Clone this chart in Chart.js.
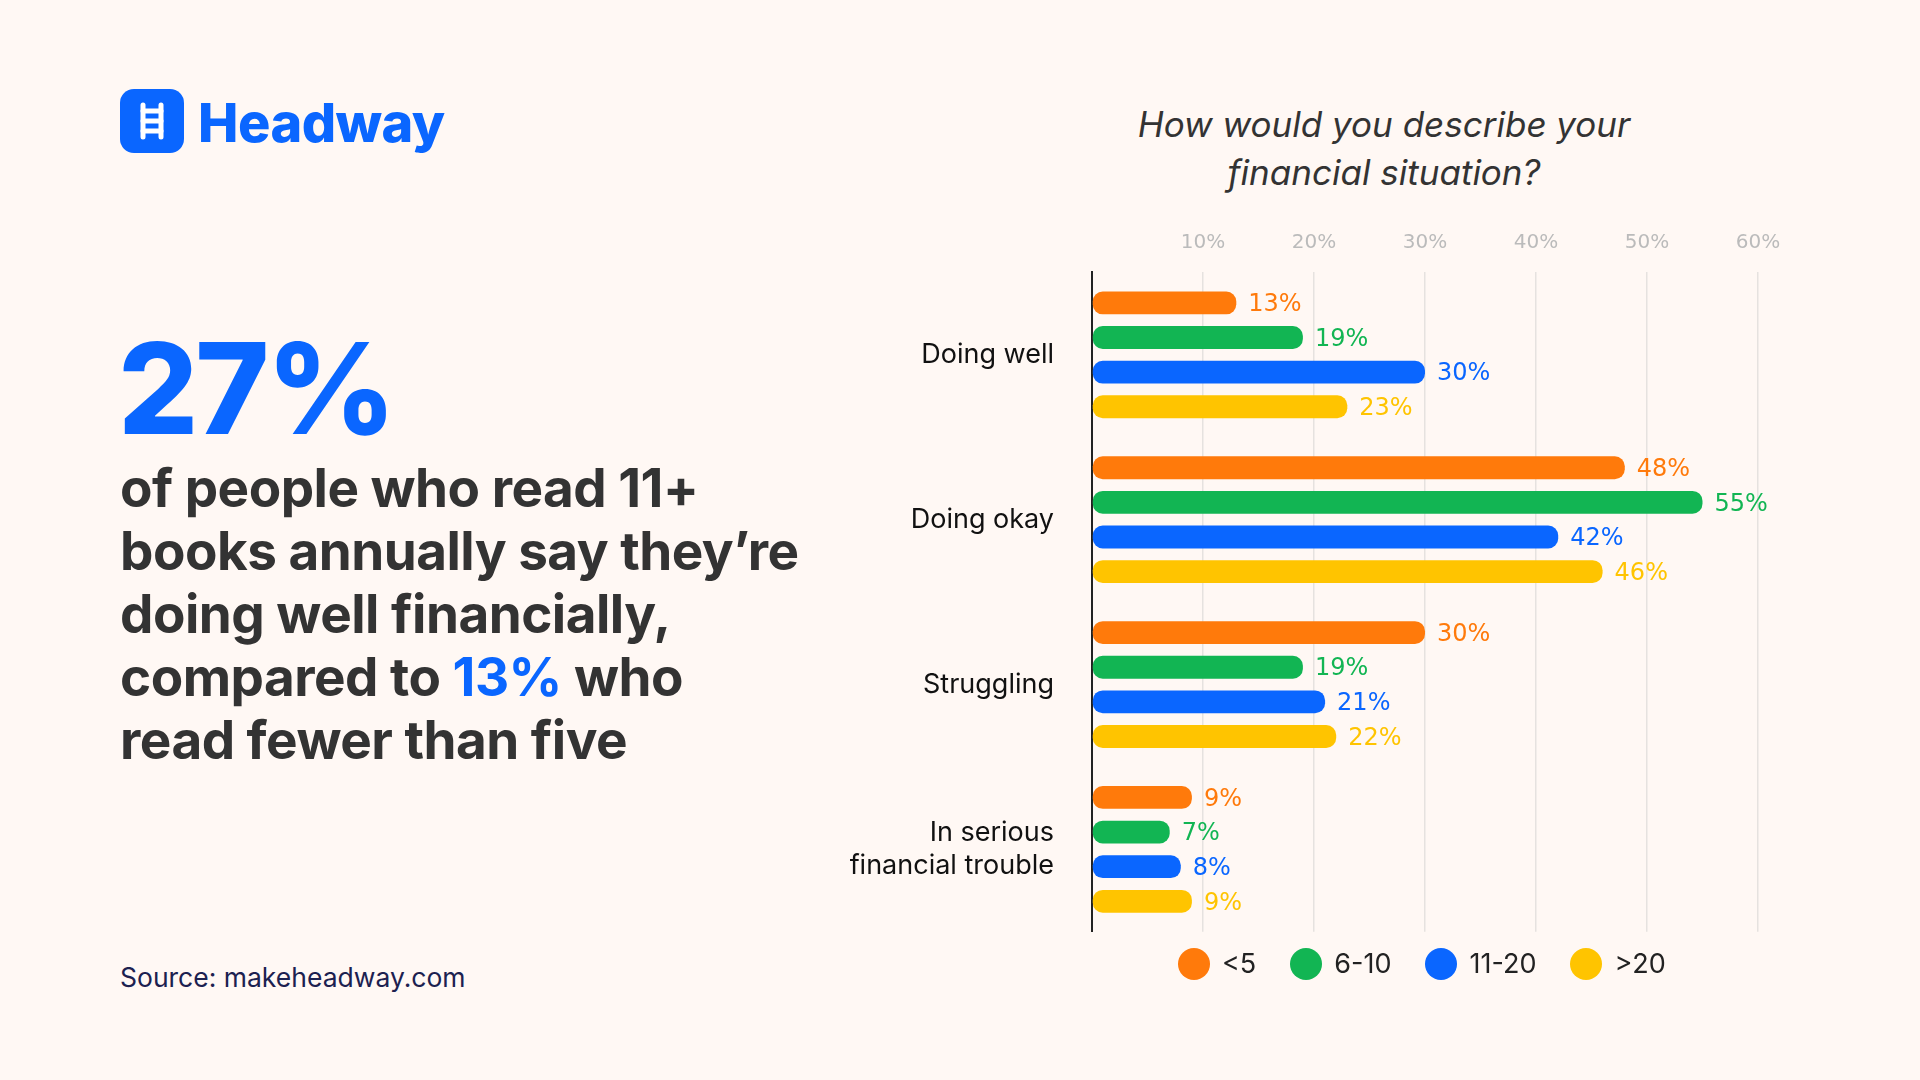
<!DOCTYPE html>
<html><head><meta charset="utf-8">
<script src="https://cdn.jsdelivr.net/npm/chart.js@4"></script>
<style>
body{margin:0;width:1920px;height:1080px;background:#FFF8F4;font-family:Inter,sans-serif;position:relative;overflow:hidden}
.abs{position:absolute}
</style></head><body>
<div class="abs" style="left:120px;top:89px;width:64px;height:64px;background:#0A66FF;border-radius:14px">
<svg width="64" height="64" viewBox="0 0 64 64"><g stroke="#fff" stroke-width="5" fill="none" stroke-linecap="round"><line x1="23" y1="16" x2="23" y2="48"/><line x1="41" y1="16" x2="41" y2="48"/><line x1="23" y1="22" x2="41" y2="22"/><line x1="23" y1="32" x2="41" y2="32"/><line x1="23" y1="42" x2="41" y2="42"/></g></svg></div>
<div class="abs" style="left:198px;top:90px;font-size:54px;font-weight:800;color:#0A66FF;letter-spacing:-0.5px">Headway</div>
<div class="abs" style="left:118px;top:325px;font-size:126px;font-weight:800;color:#0A66FF;line-height:1;letter-spacing:-3px">27%</div>
<div class="abs" style="left:120px;top:457px;font-size:53px;font-weight:700;color:#333;line-height:63px;letter-spacing:-0.5px">of people who read 11+<br>books annually say they’re<br>doing well financially,<br>compared to <span style="color:#0A66FF">13%</span> who<br>read fewer than five</div>
<div class="abs" style="left:120px;top:961px;font-size:26.5px;color:#1c2150">Source: makeheadway.com</div>
<div class="abs" style="left:1034px;top:100px;width:700px;text-align:center;font-size:35px;font-style:italic;color:#333;line-height:48px">How would you describe your<br>financial situation?</div>
<div class="abs" style="left:800px;top:210px;width:1120px;height:768px"><canvas id="c"></canvas></div>
<div class="abs" id="leg" style="left:1178px;top:947px;display:flex;gap:34px;font-size:27px;color:#222;align-items:center"></div>
<script>
const categories=["Doing well","Doing okay","Struggling",["In serious","financial trouble"]];
const seriesNames=["<5","6-10","11-20",">20"];
const lt5=[13,48,30,9];
const s6to10=[19,55,19,7];
const s11to20=[30,42,21,8];
const gt20=[23,46,22,9];
const colors=["#FF7A0B","#12B553","#0A66FF","#FFC400"];
const tickValues=[10,20,30,40,50,60];
const leg=document.getElementById('leg');
seriesNames.forEach((n,i)=>{leg.innerHTML+=`<span style="display:flex;align-items:center;gap:12px"><span style="width:32px;height:32px;border-radius:50%;background:${colors[i]}"></span>${n}</span>`;});
const vals=[lt5,s6to10,s11to20,gt20];
const labelPlugin={id:'lbl',afterDatasetsDraw(ch){const c=ch.ctx;c.save();c.font='24px "DejaVu Sans"';c.textBaseline='middle';
ch.data.datasets.forEach((d,i)=>{ch.getDatasetMeta(i).data.forEach((b,j)=>{c.fillStyle=colors[i];c.fillText(d.data[j]+'%',b.x+12,b.y+2);});});c.restore();}};
new Chart(document.getElementById('c'),{type:'bar',
data:{labels:categories,datasets:vals.map((v,i)=>({label:seriesNames[i],data:v,backgroundColor:colors[i],borderRadius:10,borderSkipped:false}))},
options:{indexAxis:'y',responsive:true,maintainAspectRatio:false,animation:false,
layout:{padding:{right:162,bottom:0}},
plugins:{legend:{display:false},tooltip:{enabled:false}},
datasets:{bar:{categoryPercentage:0.84,barPercentage:0.66}},
scales:{x:{position:'top',min:0,max:60,afterFit(s){s.height=52},afterBuildTicks(s){s.ticks=[0,...tickValues].map(v=>({value:v}))},
ticks:{callback:v=>v===0?'':v+'%',color:'#bbb',font:{family:'DejaVu Sans',size:20},padding:18},
grid:{color:'#e6e2df',lineWidth:1.5,drawTicks:false},border:{display:false}},
y:{afterFit(s){s.width=292},ticks:{color:'#111',font:{family:'Inter',size:27},padding:30},grid:{display:false},border:{display:true,color:'#222',width:2}}}},
plugins:[labelPlugin]});
</script></body></html>
